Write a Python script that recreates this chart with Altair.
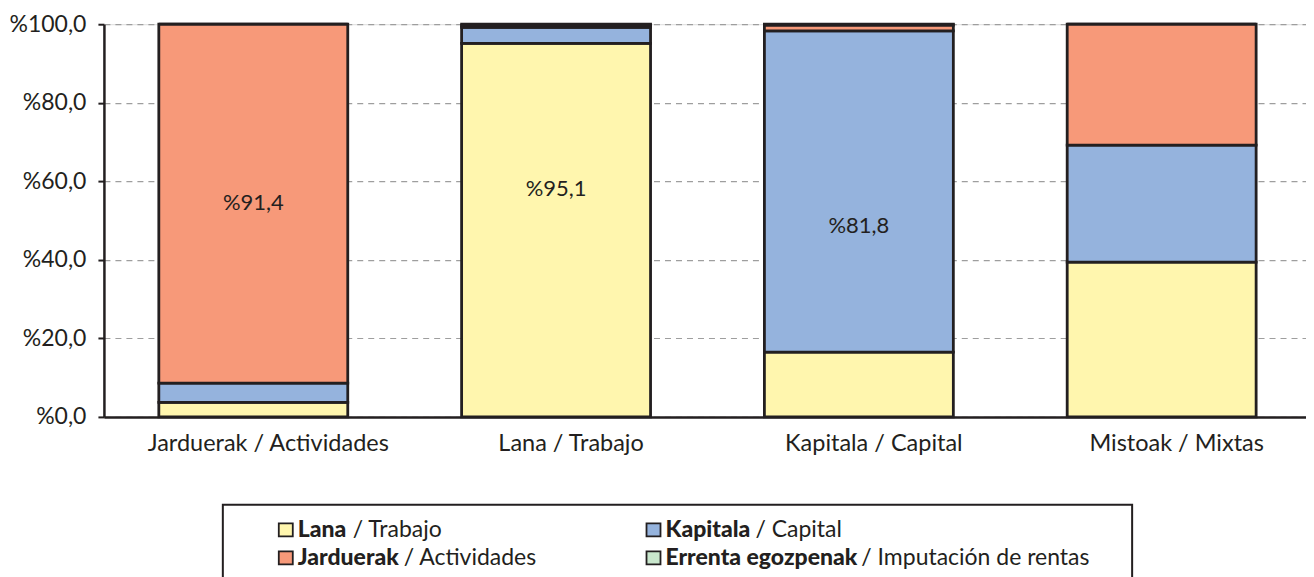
import altair as alt
import pandas as pd

# ---- data ----
categories = ["Jarduerak / Actividades", "Lana / Trabajo", "Kapitala / Capital", "Mistoak / Mixtas"]
series = ["Lana", "Kapitala", "Jarduerak", "Errenta egozpenak"]
series_es = ["/ Trabajo", "/ Capital", "/ Actividades", "/ Imputación de rentas"]
lana = [3.7, 95.1, 16.5, 39.4]
kapitala = [4.9, 4.1, 81.8, 29.8]
jarduerak = [91.4, 0.5, 1.5, 30.8]
errenta = [0.0, 0.3, 0.2, 0.0]
label_cats = ["Jarduerak / Actividades", "Lana / Trabajo", "Kapitala / Capital"]
label_text = ["%91,4", "%95,1", "%81,8"]
label_pos = [54.4, 58.0, 48.6]
y_ticks = [0, 20, 40, 60, 80, 100]

# ---- styles ----
colors = ["#FFF6AE", "#95B3DD", "#F79979", "#C9E7CD"]
INK = "#231F20"
FONT = "Lato"

rows = []
for s_i, (s, vals) in enumerate(zip(series, [lana, kapitala, jarduerak, errenta])):
    for c, v in zip(categories, vals):
        rows.append({"cat": c, "serie": s, "ord": s_i, "val": v})
df = pd.DataFrame(rows)
labels_df = pd.DataFrame({"cat": label_cats, "txt": label_text, "pos": label_pos})

x_enc = alt.X(
    "cat:N", sort=categories,
    scale=alt.Scale(paddingInner=0.376, paddingOuter=0.173, align=0.524),
    axis=alt.Axis(title=None, labelAngle=0, labelFont=FONT, labelFontSize=23.5,
                  labelColor=INK, labelPadding=15, labelLimit=0, labelOffset=15,
                  ticks=False, domainColor=INK, domainWidth=2.5),
)

bars = alt.Chart(df).mark_bar(stroke=INK, strokeWidth=2.8).encode(
    x=x_enc,
    y=alt.Y("val:Q", stack="zero",
            scale=alt.Scale(domain=[0, 100], nice=False),
            axis=alt.Axis(title=None, values=y_ticks,
                          labelExpr="'%' + replace(format(datum.value, '.1f'), '.', ',')",
                          labelFont=FONT, labelFontSize=23, labelColor=INK,
                          labelPadding=12, grid=True, gridDash=[6, 5],
                          gridColor="#9E9E9E", gridWidth=1.2,
                          tickSize=6, tickColor=INK, tickWidth=2,
                          domainColor=INK, domainWidth=2.5)),
    color=alt.Color("serie:N", scale=alt.Scale(domain=series, range=colors), legend=None),
    order=alt.Order("ord:Q", sort="ascending"),
)

texts = alt.Chart(labels_df).mark_text(font=FONT, fontSize=22, color=INK).encode(
    x=alt.X("cat:N", sort=categories),
    y=alt.Y("pos:Q"),
    text="txt:N",
)

# ---- custom legend below the plot ----
layers = [bars, texts]
box = alt.Chart(pd.DataFrame({"a": [0]})).mark_rect(fill="white", stroke=INK, strokeWidth=2).encode(
    x=alt.value(119), x2=alt.value(1029), y=alt.value(481), y2=alt.value(580))
layers.append(box)

sw_x = [175, 543, 175, 543]
txt_x = [194, 562, 194, 562]
rest_x = [249, 652, 300, 758]
row_y = [506, 506, 534, 534]
for i, (b, r, col) in enumerate(zip(series, series_es, colors)):
    one = pd.DataFrame({"b": [b], "r": [r]})
    layers.append(alt.Chart(one).mark_rect(fill=col, stroke=INK, strokeWidth=1.8).encode(
        x=alt.value(sw_x[i]), x2=alt.value(sw_x[i] + 14),
        y=alt.value(row_y[i] - 6.5), y2=alt.value(row_y[i] + 6.5)))
    layers.append(alt.Chart(one).mark_text(font=FONT, fontSize=23, fontWeight=900, color=INK,
                                           align="left", baseline="middle").encode(
        x=alt.value(txt_x[i]), y=alt.value(row_y[i]), text="b:N"))
    layers.append(alt.Chart(one).mark_text(font=FONT, fontSize=23, color=INK,
                                           align="left", baseline="middle").encode(
        x=alt.value(rest_x[i]), y=alt.value(row_y[i]), text="r:N"))

chart = alt.layer(*layers).properties(
    width=1203, height=393,
    padding={"left": 0, "top": 5, "right": 0, "bottom": 0},
).configure_view(stroke=None).configure(background="white")

chart.save("out.html", embed_options={"renderer": "svg", "actions": False})
